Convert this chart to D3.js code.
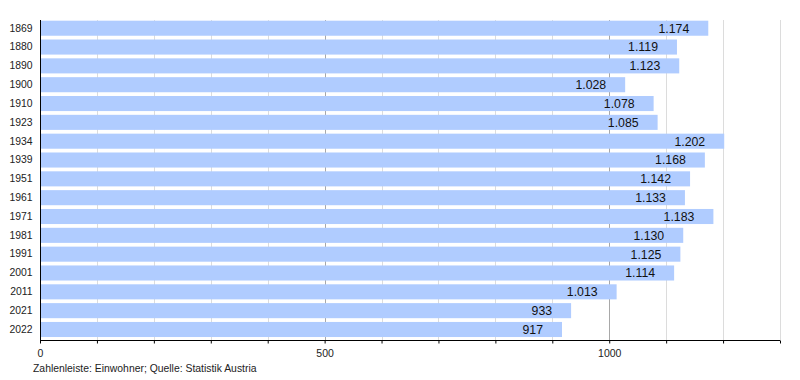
<!DOCTYPE html>
<html>
<head>
<meta charset="utf-8">
<script src="https://cdn.jsdelivr.net/npm/d3@7"></script>
<style>
  body { margin: 0; background: #fff; }
  text { font-family: "Liberation Sans", Arial, sans-serif; }
</style>
</head>
<body>
<div id="chart"></div>
<script>
const years = ["1869", "1880", "1890", "1900", "1910", "1923", "1934", "1939", "1951",
    "1961", "1971", "1981", "1991", "2001", "2011", "2021", "2022"];
const population = [1174, 1119, 1123, 1028, 1078, 1085, 1202, 1168, 1142,
    1133, 1183, 1130, 1125, 1114, 1013, 933, 917];
const xTicks = [0, 500, 1000];
const xMax = 1300;
const footer = "Zahlenleiste: Einwohner; Quelle: Statistik Austria";

const width = 800;
const height = 380;

const svg = d3.select("#chart")
    .append("svg")
    .attr("width", width)
    .attr("height", height);

const x = d3.scaleLinear()
    .domain([0, xMax])
    .range([40, 780]);

const y = d3.scaleBand()
    .domain(years)
    .range([18.8, 338.9])
    .paddingInner(0.2)
    .paddingOuter(0.1);

const de = d3.formatLocale({ decimal: ",", thousands: ".", grouping: [3], currency: ["", "€"] });
const fmt = de.format(",d");

// grid lines every 100
const gridVals = d3.range(100, xMax + 1, 100);
svg.append("g")
    .selectAll("line")
    .data(gridVals)
    .enter().append("line")
    .attr("x1", d => Math.round(x(d)) + 0.5)
    .attr("x2", d => Math.round(x(d)) + 0.5)
    .attr("y1", 20)
    .attr("y2", 340)
    .attr("stroke", d => d % 500 === 0 ? "#a8a8a8" : "#dcdcdc")
    .attr("stroke-width", 1);

svg.append("g")
    .selectAll("rect")
    .data(years)
    .enter().append("rect")
    .attr("x", x(0))
    .attr("y", d => y(d))
    .attr("width", (d, i) => x(population[i]) - x(0))
    .attr("height", y.bandwidth())
    .attr("fill", "#b0ccff");

svg.append("g")
    .selectAll("text")
    .data(years)
    .enter().append("text")
    .attr("x", (d, i) => x(population[i]) - 19)
    .attr("y", d => y(d) + y.bandwidth() / 2)
    .attr("dy", "0.36em")
    .attr("text-anchor", "end")
    .attr("font-size", 12.3)
    .attr("fill", "#111")
    .text((d, i) => fmt(population[i]));

// year labels
const yAxis = svg.append("g")
    .attr("transform", "translate(40.5,0)")
    .call(d3.axisLeft(y).tickSize(0).tickPadding(8));
yAxis.select(".domain").attr("d", "M0,20V340").attr("stroke", "#000");
yAxis.selectAll("text").attr("font-size", 10.4).attr("fill", "#222")
    .style("font-family", "'Liberation Sans', Arial, sans-serif");

// x axis
const xAxis = svg.append("g")
    .attr("transform", "translate(0,340.5)")
    .call(d3.axisBottom(x).tickValues(d3.range(0, xMax + 1, 100)).tickSize(3).tickPadding(6)
        .tickFormat(d => xTicks.includes(d) ? d : ""));
xAxis.select(".domain").attr("d", `M${x(0)},0H${x(xMax)}`).attr("stroke", "#000");
xAxis.selectAll("line").attr("stroke", "#000");
xAxis.selectAll("text").attr("font-size", 10.5).attr("fill", "#222")
    .style("font-family", "'Liberation Sans', Arial, sans-serif");

svg.append("text")
    .attr("x", 33)
    .attr("y", 372)
    .attr("font-size", 10.4)
    .attr("fill", "#222")
    .text(footer);
</script>
</body>
</html>
